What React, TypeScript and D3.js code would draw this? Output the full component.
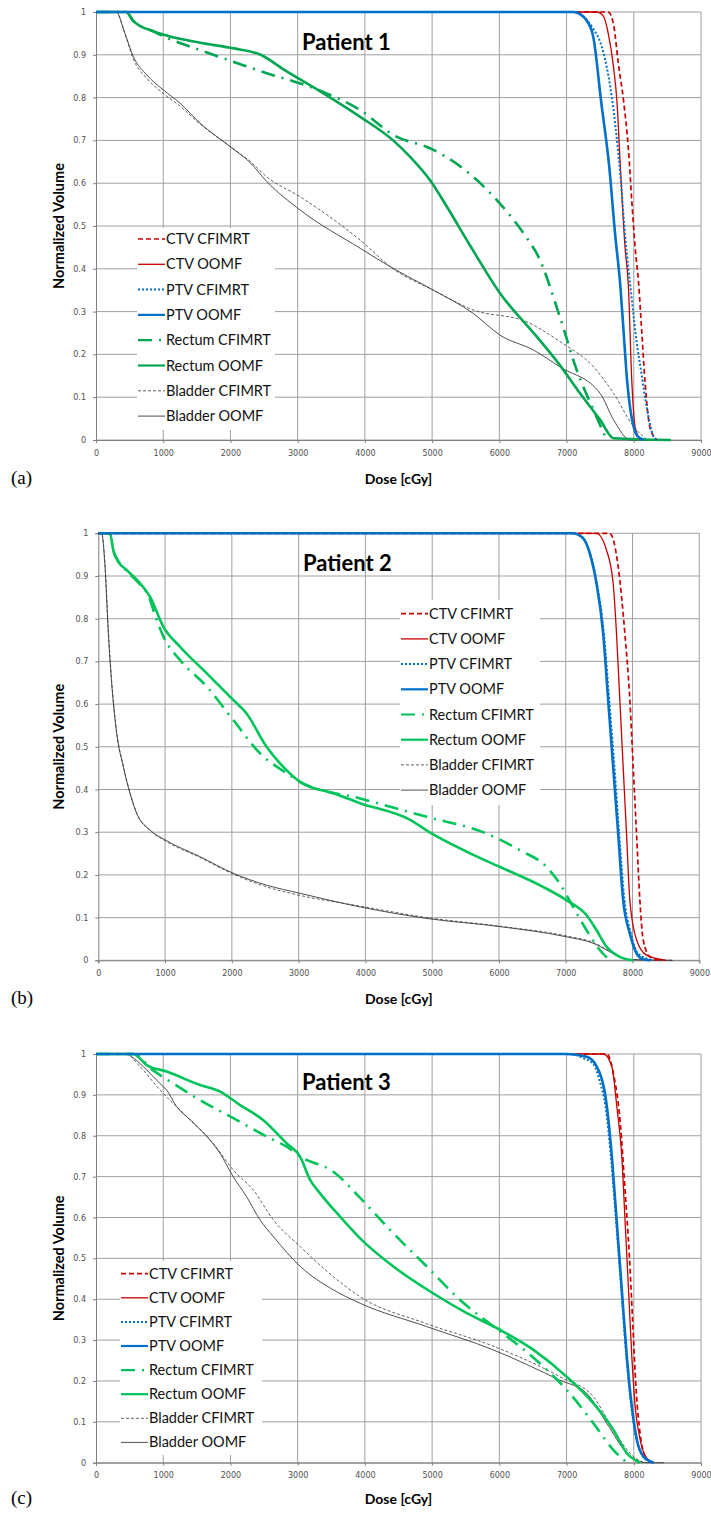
import React, { useEffect, useRef } from 'react';
import * as d3 from 'd3';

const doseTicks = [0, 1000, 2000, 3000, 4000, 5000, 6000, 7000, 8000, 9000];
const volTicks = [0, 0.1, 0.2, 0.3, 0.4, 0.5, 0.6, 0.7, 0.8, 0.9, 1];
const legendNames = [
  'CTV CFIMRT',
  'CTV OOMF',
  'PTV CFIMRT',
  'PTV OOMF',
  'Rectum CFIMRT',
  'Rectum OOMF',
  'Bladder CFIMRT',
  'Bladder OOMF',
];

// patient 1
const p1CtvCf = [[0, 1], [7620, 1], [7700, 0.97], [7770, 0.88], [7850, 0.79], [7920, 0.68], [7970, 0.56], [8020, 0.45], [8070, 0.37], [8120, 0.25], [8170, 0.13], [8240, 0.03], [8340, 0]];
const p1CtvOo = [[0, 1], [7450, 1], [7550, 0.99], [7620, 0.95], [7700, 0.87], [7750, 0.79], [7800, 0.64], [7870, 0.45], [7920, 0.36], [7970, 0.14], [8020, 0.03], [8100, 0]];
const p1PtvCf = [[0, 1], [7100, 1], [7250, 0.99], [7400, 0.96], [7500, 0.93], [7600, 0.87], [7700, 0.77], [7750, 0.7], [7800, 0.62], [7870, 0.48], [7970, 0.33], [8050, 0.22], [8100, 0.17], [8200, 0.07], [8290, 0.01], [8350, 0]];
const p1PtvOo = [[0, 1], [7100, 1], [7200, 0.995], [7300, 0.98], [7400, 0.94], [7515, 0.79], [7634, 0.64], [7723, 0.48], [7800, 0.36], [7850, 0.25], [7900, 0.14], [7950, 0.07], [8000, 0.03], [8050, 0.01], [8150, 0]];
const p1RecCf = [[0, 1], [450, 1], [550, 0.98], [850, 0.955], [1050, 0.94], [1550, 0.911], [2040, 0.884], [2540, 0.857], [3040, 0.833], [3430, 0.81], [3930, 0.771], [4420, 0.713], [5020, 0.678], [5420, 0.639], [5960, 0.561], [6460, 0.46], [6560, 0.435], [6900, 0.288], [7150, 0.164], [7400, 0.07], [7600, 0]];
const p1RecOo = [[0, 1], [450, 1], [550, 0.98], [850, 0.955], [1050, 0.945], [1550, 0.928], [2050, 0.915], [2450, 0.9], [2800, 0.865], [3300, 0.818], [3930, 0.755], [4420, 0.7], [4670, 0.662], [4970, 0.607], [5220, 0.545], [5590, 0.448], [6010, 0.343], [6560, 0.241], [6900, 0.175], [7200, 0.109], [7500, 0.047], [7700, 0.004], [8550, 0]];
const p1BlaCf = [[0, 1], [300, 1], [430, 0.95], [555, 0.89], [755, 0.845], [1000, 0.81], [1250, 0.78], [1550, 0.738], [2000, 0.685], [2300, 0.65], [2540, 0.615], [3040, 0.568], [3930, 0.467], [4420, 0.4], [5020, 0.35], [5610, 0.304], [6410, 0.276], [6900, 0.23], [7400, 0.171], [7700, 0.109], [8000, 0.031], [8200, 0]];
const p1BlaOo = [[0, 1], [300, 1], [430, 0.95], [555, 0.896], [755, 0.853], [1000, 0.818], [1250, 0.787], [1550, 0.74], [2000, 0.685], [2300, 0.647], [2540, 0.604], [3040, 0.537], [3930, 0.448], [4420, 0.401], [5020, 0.35], [5610, 0.296], [6010, 0.245], [6510, 0.21], [6900, 0.171], [7500, 0.109], [7700, 0.047], [7950, 0], [8550, 0]];

// patient 2
const p2CtvCf = [[0, 1], [7660, 1], [7785, 0.922], [7885, 0.766], [7960, 0.61], [8010, 0.453], [8060, 0.297], [8110, 0.141], [8160, 0.048], [8260, 0.008], [8400, 0]];
const p2CtvOo = [[0, 1], [7460, 1], [7610, 0.961], [7710, 0.883], [7760, 0.766], [7810, 0.61], [7860, 0.453], [7910, 0.297], [7960, 0.141], [8060, 0.048], [8210, 0.012], [8500, 0]];
const p2PtvCf = [[0, 1], [7100, 1], [7250, 0.99], [7360, 0.955], [7460, 0.888], [7570, 0.766], [7650, 0.61], [7730, 0.453], [7800, 0.297], [7880, 0.141], [7980, 0.06], [8080, 0.016], [8300, 0]];
const p2PtvOo = [[0, 1], [7100, 1], [7250, 0.99], [7360, 0.953], [7460, 0.883], [7560, 0.766], [7635, 0.61], [7710, 0.453], [7785, 0.297], [7860, 0.141], [7960, 0.063], [8060, 0.016], [8150, 0.003], [8260, 0]];
const p2RecCf = [[0, 1], [175, 1], [225, 0.96], [300, 0.935], [425, 0.912], [625, 0.88], [775, 0.845], [825, 0.82], [975, 0.758], [1225, 0.703], [1625, 0.641], [2020, 0.563], [2420, 0.485], [2820, 0.438], [3020, 0.418], [3920, 0.379], [4920, 0.336], [5810, 0.297], [6310, 0.258], [6710, 0.219], [6910, 0.18], [7110, 0.125], [7310, 0.071], [7510, 0.024], [7660, 0]];
const p2RecOo = [[0, 1], [175, 1], [225, 0.96], [300, 0.933], [425, 0.914], [625, 0.883], [775, 0.851], [975, 0.781], [1225, 0.734], [1625, 0.672], [2020, 0.61], [2220, 0.578], [2520, 0.5], [2770, 0.453], [3020, 0.418], [3520, 0.391], [3920, 0.368], [4670, 0.329], [4990, 0.297], [5560, 0.251], [6010, 0.219], [6660, 0.172], [7010, 0.141], [7310, 0.106], [7460, 0.071], [7610, 0.032], [7810, 0.008], [8010, 0]];
const p2BlaCf = [[0, 1], [50, 1], [100, 0.93], [150, 0.775], [200, 0.655], [275, 0.535], [375, 0.455], [475, 0.392], [575, 0.345], [775, 0.304], [1000, 0.28], [1520, 0.241], [2020, 0.202], [2520, 0.172], [3020, 0.152], [3920, 0.127], [4920, 0.1], [6010, 0.08], [7010, 0.057], [7410, 0.042], [7710, 0.017], [7910, 0.002], [8600, 0]];
const p2BlaOo = [[0, 1], [50, 1], [100, 0.922], [150, 0.766], [200, 0.649], [275, 0.532], [375, 0.453], [475, 0.391], [575, 0.344], [775, 0.305], [1000, 0.282], [1520, 0.243], [2020, 0.204], [2520, 0.176], [3020, 0.157], [3920, 0.125], [4920, 0.098], [6010, 0.079], [7010, 0.055], [7410, 0.04], [7710, 0.016], [7910, 0.002], [8600, 0]];

// patient 3
const p3CtvCf = [[0, 1], [7600, 1], [7700, 0.95], [7800, 0.83], [7870, 0.667], [7935, 0.504], [7985, 0.341], [8035, 0.178], [8095, 0.07], [8170, 0.015], [8280, 0]];
const p3CtvOo = [[0, 1], [7550, 1], [7674, 0.969], [7748, 0.871], [7822, 0.749], [7872, 0.586], [7922, 0.423], [7971, 0.259], [8021, 0.137], [8095, 0.056], [8194, 0.011], [8300, 0]];
const p3PtvCf = [[0, 1], [7050, 1], [7250, 0.99], [7400, 0.975], [7500, 0.93], [7580, 0.871], [7660, 0.749], [7740, 0.586], [7815, 0.423], [7890, 0.259], [7965, 0.137], [8040, 0.056], [8140, 0.015], [8290, 0]];
const p3PtvOo = [[0, 1], [7000, 1], [7300, 0.993], [7450, 0.969], [7600, 0.871], [7674, 0.749], [7748, 0.586], [7822, 0.423], [7897, 0.259], [7971, 0.137], [8046, 0.056], [8145, 0.015], [8294, 0]];
const p3RecCf = [[0, 1], [555, 1], [850, 0.96], [1150, 0.928], [1548, 0.887], [2043, 0.843], [2540, 0.798], [2837, 0.773], [3036, 0.749], [3531, 0.712], [3929, 0.648], [4424, 0.561], [4921, 0.48], [5417, 0.398], [5913, 0.333], [6310, 0.284], [6707, 0.227], [7004, 0.178], [7401, 0.096], [7698, 0.031], [7897, 0]];
const p3RecOo = [[0, 1], [555, 1], [754, 0.973], [1052, 0.957], [1548, 0.924], [1845, 0.908], [2143, 0.875], [2490, 0.838], [2837, 0.781], [3036, 0.749], [3185, 0.692], [3333, 0.659], [3631, 0.602], [3929, 0.549], [4424, 0.48], [5019, 0.414], [5516, 0.366], [6012, 0.325], [6508, 0.276], [7004, 0.21], [7401, 0.145], [7698, 0.08], [7897, 0.023], [8095, 0]];
const p3BlaCf = [[0, 1], [450, 1], [655, 0.969], [952, 0.912], [1350, 0.847], [1746, 0.781], [2043, 0.716], [2341, 0.667], [2638, 0.594], [3036, 0.529], [3531, 0.455], [3929, 0.406], [4920, 0.34], [5913, 0.285], [6905, 0.21], [7401, 0.161], [7698, 0.08], [7996, 0.015], [8150, 0]];
const p3BlaOo = [[0, 1], [450, 1], [555, 0.99], [755, 0.961], [950, 0.928], [1050, 0.912], [1200, 0.871], [1400, 0.839], [1650, 0.798], [1845, 0.757], [2040, 0.7], [2240, 0.651], [2440, 0.594], [2640, 0.553], [3040, 0.48], [3530, 0.423], [3930, 0.39], [4920, 0.333], [5910, 0.276], [6900, 0.202], [7300, 0.17], [7600, 0.096], [7900, 0.023], [8200, 0], [8450, 0]];

const panels = [
  {
    title: 'Patient 1', tag: '(a)', green: '#00a651',
    x0: 96, x1: 701, yTop: 12, yBot: 440, titleX: 302, titleY: 50, footY: 484,
    legend: { x: 137, y: 228, w: 138, h: 202, step: 25.3, first: 239 },
    series: [p1CtvCf, p1CtvOo, p1PtvCf, p1PtvOo, p1RecCf, p1RecOo, p1BlaCf, p1BlaOo],
  },
  {
    title: 'Patient 2', tag: '(b)', green: '#00c45a',
    x0: 98.3, x1: 699.3, yTop: 533.3, yBot: 960.3, titleX: 303, titleY: 571, footY: 1004,
    legend: { x: 400, y: 600, w: 140, h: 205, step: 25.2, first: 613.7 },
    series: [p2CtvCf, p2CtvOo, p2PtvCf, p2PtvOo, p2RecCf, p2RecOo, p2BlaCf, p2BlaOo],
  },
  {
    title: 'Patient 3', tag: '(c)', green: '#00c45a',
    x0: 96, x1: 701, yTop: 1054, yBot: 1462.7, titleX: 302, titleY: 1090, footY: 1504,
    legend: { x: 120, y: 1261, w: 142, h: 194, step: 24.1, first: 1273.7 },
    series: [p3CtvCf, p3CtvOo, p3PtvCf, p3PtvOo, p3RecCf, p3RecOo, p3BlaCf, p3BlaOo],
  },
];

const styleFor = (i: number, green: string) => {
  const red = '#c80000';
  const blue = '#0070c8';
  const gray = '#3a3a3a';
  return [
    { color: red, width: 1.7, dash: '5,3' },
    { color: red, width: 1.3, dash: null },
    { color: blue, width: 2, dash: '2,2' },
    { color: blue, width: 2.6, dash: null },
    { color: green, width: 2.6, dash: '14,7,2,7' },
    { color: green, width: 2.6, dash: null },
    { color: gray, width: 0.8, dash: '3,2' },
    { color: gray, width: 0.9, dash: null },
  ][i];
};

export default function App() {
  const ref = useRef<SVGSVGElement>(null);

  useEffect(() => {
    const svg = d3.select(ref.current);
    svg.selectAll('*').remove();
    svg.append('rect').attr('width', 711).attr('height', 1539).attr('fill', '#fff');

    panels.forEach((p) => {
      const x = d3.scaleLinear().domain([0, 9000]).range([p.x0, p.x1]);
      const y = d3.scaleLinear().domain([0, 1]).range([p.yBot, p.yTop]);
      const g = svg.append('g');

      // grid
      g.selectAll('.hg')
        .data(volTicks)
        .enter()
        .append('line')
        .attr('x1', p.x0)
        .attr('x2', p.x1)
        .attr('y1', (d) => y(d))
        .attr('y2', (d) => y(d))
        .attr('stroke', '#a0a0a0')
        .attr('stroke-width', 1);
      g.selectAll('.vg')
        .data(doseTicks.slice(1))
        .enter()
        .append('line')
        .attr('x1', (d) => x(d))
        .attr('x2', (d) => x(d))
        .attr('y1', p.yTop)
        .attr('y2', p.yBot)
        .attr('stroke', '#a0a0a0')
        .attr('stroke-width', 1);

      // axes
      const xAxis = d3.axisBottom(x).tickValues(doseTicks).tickSize(3).tickFormat(d3.format('d'));
      const yAxis = d3.axisLeft(y).tickValues(volTicks).tickSize(3).tickFormat((d) => String(+d));
      const ax = g.append('g').attr('transform', `translate(0,${p.yBot})`).call(xAxis);
      const ay = g.append('g').attr('transform', `translate(${p.x0},0)`).call(yAxis);
      [ax, ay].forEach((a) => {
        a.select('.domain').attr('stroke', '#808080');
        a.selectAll('.tick line').attr('stroke', '#808080');
        a.selectAll('.tick text')
          .attr('fill', '#505050')
          .style('font-family', 'DejaVu Sans')
          .style('font-size', '8px');
      });
      ax.selectAll('.tick text').attr('dy', '1.2em');
      ay.selectAll('.tick text').attr('dx', '-0.5em');

      // curves
      const line = d3
        .line<number[]>()
        .x((d) => x(d[0]))
        .y((d) => y(d[1]))
        .curve(d3.curveMonotoneX);
      const order = [7, 6, 5, 4, 1, 0, 2, 3];
      order.forEach((i) => {
        const s = styleFor(i, p.green);
        g.append('path')
          .attr('d', line(p.series[i]))
          .attr('fill', 'none')
          .attr('stroke', s.color)
          .attr('stroke-width', s.width)
          .attr('stroke-dasharray', s.dash)
          .attr('stroke-linejoin', 'round');
      });

      // legend
      const L = p.legend;
      g.append('rect').attr('x', L.x).attr('y', L.y).attr('width', L.w).attr('height', L.h).attr('fill', '#fff');
      legendNames.forEach((name, i) => {
        const s = styleFor(i, p.green);
        const ly = L.first + i * L.step;
        g.append('line')
          .attr('x1', L.x + 1)
          .attr('x2', L.x + 28)
          .attr('y1', ly)
          .attr('y2', ly)
          .attr('stroke', s.color)
          .attr('stroke-width', Math.min(s.width, 2.2))
          .attr('stroke-dasharray', i === 4 ? '14,7,2' : s.dash);
        g.append('text')
          .attr('x', L.x + 29)
          .attr('y', ly + 5)
          .attr('font-family', 'Lato')
          .attr('font-size', 14.5)
          .attr('fill', '#111')
          .text(name);
      });

      // titles
      g.append('text')
        .attr('x', p.titleX)
        .attr('y', p.titleY)
        .attr('font-family', 'Lato')
        .attr('font-weight', 'bold')
        .attr('font-size', 22)
        .text(p.title);
      g.append('text')
        .attr('x', (p.x0 + p.x1) / 2)
        .attr('y', p.footY)
        .attr('text-anchor', 'middle')
        .attr('font-family', 'Lato')
        .attr('font-weight', 'bold')
        .attr('font-size', 14)
        .text('Dose [cGy]');
      g.append('text')
        .attr('transform', `translate(64,${(p.yTop + p.yBot) / 2}) rotate(-90)`)
        .attr('text-anchor', 'middle')
        .attr('font-family', 'Lato')
        .attr('font-weight', 'bold')
        .attr('font-size', 14.5)
        .text('Normalized Volume');
      g.append('text')
        .attr('x', 11)
        .attr('y', p.footY)
        .attr('font-family', 'Liberation Serif')
        .attr('font-size', 19)
        .text(p.tag);
    });
  }, []);

  return (
    <svg
      ref={ref}
      width={711}
      height={1539}
      style={{ position: 'absolute', left: 0, top: 0 }}
    />
  );
}
